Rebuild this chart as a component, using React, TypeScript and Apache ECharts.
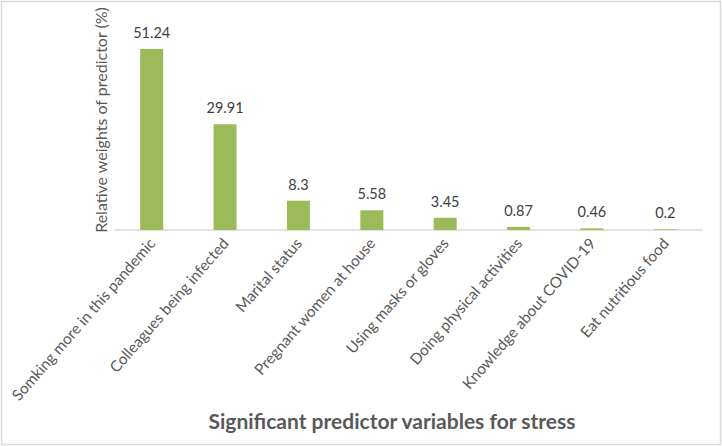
import React, { useEffect, useRef } from "react";
import * as echarts from "echarts";

const categories = [
  "Somking more in this pandemic",
  "Colleagues being infected",
  "Marital status",
  "Pregnant women at house",
  "Using masks or gloves",
  "Doing physical activities",
  "Knowledge about COVID-19",
  "Eat nutritious food",
];
const weights = [51.24, 29.91, 8.3, 5.58, 3.45, 0.87, 0.46, 0.2];
const yAxisTitle = "Relative weights of predictor (%)";
const xAxisTitle = "Significant predictor variables for stress";

const FONT = "Lato, 'Open Sans', sans-serif";

export default function App() {
  const ref = useRef<HTMLDivElement>(null);
  useEffect(() => {
    document.body.style.margin = "0";
    const chart = echarts.init(ref.current!, null, { renderer: "svg" });
    chart.setOption({
      animation: false,
      grid: { left: 115, right: 20, top: 18, bottom: 216, containLabel: false },
      xAxis: {
        type: "category",
        data: categories,
        axisLine: { show: true, lineStyle: { color: "#d9d9d9", width: 1.5 } },
        axisTick: { show: false },
        axisLabel: {
          interval: 0,
          rotate: 49,
          color: "#595959",
          fontSize: 15.3,
          fontFamily: FONT,
          margin: 10,
        },
      },
      yAxis: {
        type: "value",
        min: 0,
        max: 60,
        show: true,
        axisLine: { show: false },
        axisTick: { show: false },
        axisLabel: { show: false },
        splitLine: { show: false },
      },
      series: [
        {
          type: "bar",
          data: weights,
          barWidth: 23,
          itemStyle: { color: "#9bbb59" },
          label: {
            show: true,
            position: "top",
            distance: 9,
            color: "#404040",
            fontSize: 14.5,
            fontFamily: FONT,
          },
        },
      ],
      graphic: [
        {
          type: "rect",
          shape: { x: 1.5, y: 1.5, width: 719, height: 443 },
          style: { fill: "none", stroke: "#d9d9d9", lineWidth: 1.5 },
          silent: true,
        },
        {
          type: "text",
          x: 100,
          y: 120,
          rotation: Math.PI / 2,
          style: {
            text: yAxisTitle,
            fill: "#595959",
            font: `16px ${FONT}`,
            textAlign: "center",
            textVerticalAlign: "middle",
          },
        },
        {
          type: "text",
          x: 392,
          y: 420,
          style: {
            text: xAxisTitle,
            fill: "#595959",
            font: `bold 21px ${FONT}`,
            textAlign: "center",
            textVerticalAlign: "middle",
          },
        },
      ],
    });
    return () => chart.dispose();
  }, []);
  return <div ref={ref} style={{ width: 722, height: 446 }} />;
}
